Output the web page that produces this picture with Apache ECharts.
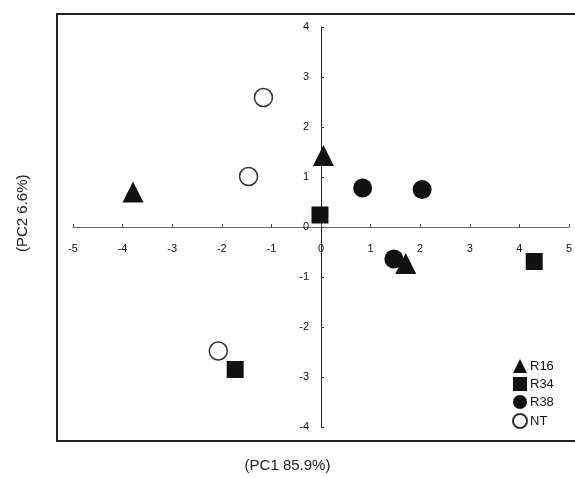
<!DOCTYPE html>
<html>
<head>
<meta charset="utf-8">
<script src="https://cdn.jsdelivr.net/npm/echarts@6/dist/echarts.min.js"></script>
<style>
html,body{margin:0;padding:0;background:#fff;}
#chart{width:575px;height:478px;}
</style>
</head>
<body>
<div id="chart"></div>
<script>
var seriesNames = ['R16', 'R34', 'R38', 'NT'];
var r16 = [[-3.79, 0.70], [0.05, 1.43], [1.71, -0.73]];
var r34 = [[-0.02, 0.24], [-1.73, -2.85], [4.30, -0.69]];
var r38 = [[0.84, 0.78], [2.04, 0.75], [1.47, -0.64]];
var nt = [[-1.16, 2.59], [-1.46, 1.01], [-2.07, -2.48]];
var xTicks = [-5, -4, -3, -2, -1, 0, 1, 2, 3, 4, 5];
var yTicks = [-4, -3, -2, -1, 0, 1, 2, 3, 4];
var xTitle = '(PC1 85.9%)';
var yTitle = '(PC2 6.6%)';

var chart = echarts.init(document.getElementById('chart'), null, {renderer: 'canvas'});
var font = 'Liberation Sans, Arial, sans-serif';
var option = {
  backgroundColor: '#fff',
  animation: false,
  grid: {left: 73, right: 6, top: 27, bottom: 51, containLabel: false},
  xAxis: {
    type: 'value', min: xTicks[0], max: xTicks[xTicks.length - 1], interval: 1,
    position: 'bottom', offset: -200,
    axisLine: {onZero: false, lineStyle: {color: '#666', width: 1}},
    axisTick: {show: true, inside: true, length: 3, lineStyle: {color: '#444'}},
    axisLabel: {color: '#111', fontSize: 11, fontFamily: font, margin: 16},
    splitLine: {show: false}
  },
  yAxis: {
    type: 'value', min: yTicks[0], max: yTicks[yTicks.length - 1], interval: 1,
    position: 'left', offset: -248,
    axisLine: {onZero: false, lineStyle: {color: '#222', width: 1}},
    axisTick: {show: true, inside: true, length: 3, lineStyle: {color: '#333'}},
    axisLabel: {color: '#111', fontSize: 11, fontFamily: font, margin: 12},
    splitLine: {show: false}
  },
  legend: {
    orient: 'vertical', left: 507, top: 354, itemGap: 4, itemWidth: 14, itemHeight: 14,
    textStyle: {color: '#111', fontSize: 13, fontFamily: font, padding: [0, 0, 0, -2]},
    data: seriesNames
  },
  graphic: [
    {type: 'rect', shape: {x: 57, y: 14, width: 530, height: 427}, style: {fill: 'none', stroke: '#222', lineWidth: 2}, silent: true, z: -1},
    {type: 'text', left: 'center', top: 458, style: {text: xTitle, fontSize: 15, fontFamily: font, fill: '#222'}},
    {type: 'text', x: 15, y: 252, rotation: Math.PI / 2, style: {text: yTitle, fontSize: 15, fontFamily: font, fill: '#222'}}
  ],
  series: [
    {name: 'R16', type: 'scatter', symbol: 'triangle', symbolSize: 21, data: r16, itemStyle: {color: '#111', opacity: 1}},
    {name: 'R34', type: 'scatter', symbol: 'rect', symbolSize: 17, data: r34, itemStyle: {color: '#111', opacity: 1}},
    {name: 'R38', type: 'scatter', symbol: 'circle', symbolSize: 19, data: r38, itemStyle: {color: '#111', opacity: 1}},
    {name: 'NT', type: 'scatter', symbol: 'circle', symbolSize: 18, data: nt, itemStyle: {color: '#fff', borderColor: '#333', borderWidth: 1.5, opacity: 1}}
  ]
};
chart.setOption(option);
</script>
</body>
</html>
